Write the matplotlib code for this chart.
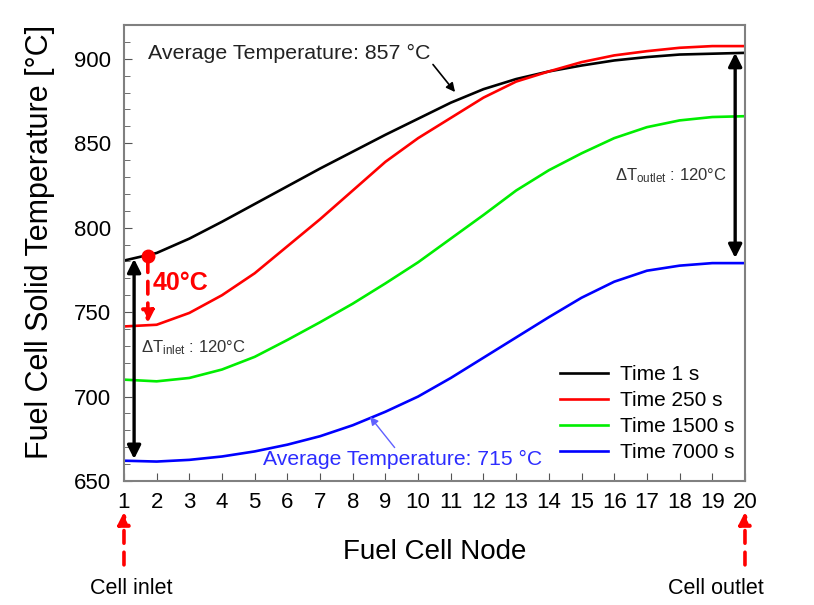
import numpy as np
import matplotlib
matplotlib.use('Agg')
import matplotlib.pyplot as plt
from matplotlib.ticker import MultipleLocator

plt.rcParams['font.family'] = ['Liberation Sans', 'DejaVu Sans']
plt.rcParams['mathtext.fontset'] = 'custom'
plt.rcParams['mathtext.rm'] = 'Liberation Sans'
plt.rcParams['mathtext.it'] = 'Liberation Sans:italic'

# fuel cell node temperatures [°C] at several times
nodes = np.arange(1, 21)
temp_1s = [780.5, 785, 793.5, 803.5, 814, 824.5, 835, 845, 855, 864.5,
           874, 882, 888, 892.5, 896, 899, 901, 902.5, 903, 903.5]
temp_250s = [741.5, 742.5, 749.5, 760, 773, 789, 805, 822, 839, 853,
             865, 877, 886.5, 892.5, 898, 902, 904.5, 906.5, 907.5, 907.5]
temp_1500s = [710, 709, 711, 716, 723.5, 733.5, 744, 755, 767, 779.5,
              793.5, 807.5, 822, 834, 844, 853, 859.5, 863.5, 865.5, 866]
temp_7000s = [662, 661.5, 662.5, 664.5, 667.5, 671.5, 676.5, 683, 691, 700,
              711, 723, 735, 747, 758.5, 768, 774.5, 777.5, 779, 779]
series = [('Time 1 s', temp_1s, 'black'),
          ('Time 250 s', temp_250s, '#ff0000'),
          ('Time 1500 s', temp_1500s, '#00ee00'),
          ('Time 7000 s', temp_7000s, '#0000ff')]

fig = plt.figure(figsize=(8.14, 6.05), dpi=100)
ax = fig.add_axes([0.1523, 0.2050, 0.7629, 0.7537])

for label, temps, col in series:
    ax.plot(nodes, temps, color=col, lw=1.9, label=label)

ax.set_xlim(1, 20)
ax.set_ylim(650, 920)
ax.set_xticks(nodes)
ax.yaxis.set_major_locator(MultipleLocator(50))
ax.yaxis.set_minor_locator(MultipleLocator(10))
ax.tick_params(axis='both', which='both', direction='in', labelsize=16,
               color='#555555', top=False, right=False)
ax.tick_params(axis='y', which='major', length=6, pad=9)
ax.tick_params(axis='y', which='minor', length=4)
ax.tick_params(axis='x', which='major', length=6, pad=8)
for sp in ax.spines.values():
    sp.set_color('#808080')
    sp.set_linewidth(1.5)

ax.set_xlabel('Fuel Cell Node', fontsize=20, labelpad=19)
ax.set_ylabel('Fuel Cell Solid Temperature [°C]', fontsize=22)
ax.yaxis.set_label_coords(-0.111, 0.524)

ax.legend(loc='lower right', bbox_to_anchor=(1.0065, 0.0097), frameon=False,
          fontsize=15, handlelength=2.35, handletextpad=0.55,
          labelspacing=0.33, borderaxespad=0.3)

# average temperature callouts
ax.annotate('Average Temperature: 857 °C', xy=(11.13, 880.3), xytext=(1.73, 903),
            fontsize=15.4, color='#222222', va='center',
            arrowprops=dict(arrowstyle='-|>', color='black', lw=1.2,
                            mutation_scale=13, shrinkA=0, shrinkB=0,
                            relpos=(0.99, 0.3)))
ax.annotate('Average Temperature: 715 °C', xy=(8.53, 688), xytext=(5.25, 662.5),
            fontsize=15.2, color='#2d2dff', va='center',
            arrowprops=dict(arrowstyle='-|>', color='#6060ff', lw=1.0,
                            mutation_scale=12, shrinkA=0, shrinkB=0,
                            relpos=(0.48, 1.0)))

# inlet / outlet spread
ax.annotate('', xy=(1.31, 663), xytext=(1.31, 781.5),
            arrowprops=dict(arrowstyle='<|-|>', color='black', lw=2.4,
                            mutation_scale=20, shrinkA=0, shrinkB=0))
ax.text(1.52, 728.8, r'$\Delta\mathrm{T}_{\mathrm{inlet}}$ : 120°C',
        fontsize=12, color='#333333', va='center')
ax.annotate('', xy=(19.7, 782), xytext=(19.7, 903.5),
            arrowprops=dict(arrowstyle='<|-|>', color='black', lw=2.4,
                            mutation_scale=20, shrinkA=0, shrinkB=0))
ax.text(19.45, 831, r'$\Delta\mathrm{T}_{\mathrm{outlet}}$ : 120°C',
        fontsize=12, color='#333333', va='center', ha='right')

# 40 °C drop at the inlet
ax.plot([1.73], [783.3], 'o', color='#ff0000', ms=9, zorder=5)
ax.annotate('', xy=(1.73, 743.5), xytext=(1.73, 781),
            arrowprops=dict(arrowstyle='-|>', color='#ff0000', lw=2.6,
                            ls=(0, (3.5, 2.5)), mutation_scale=18,
                            shrinkA=0, shrinkB=0))
ax.text(1.89, 767.3, '40°C', fontsize=18, color='#ff0000',
        fontweight='bold', va='center')

# cell inlet / outlet markers under the axis
trans = ax.get_xaxis_transform()
for xn, name in [(1, 'Cell inlet'), (20, 'Cell outlet')]:
    ax.annotate('', xy=(xn, -0.068), xytext=(xn, -0.184), xycoords=trans,
                textcoords=trans, annotation_clip=False,
                arrowprops=dict(arrowstyle='-|>', color='#ff0000', lw=2.6,
                                ls=(0, (3.5, 2.5)), mutation_scale=18,
                                shrinkA=0, shrinkB=0))
ax.text(1.23, -0.235, 'Cell inlet', transform=trans, fontsize=15.5,
        ha='center', va='center')
ax.text(19.1, -0.235, 'Cell outlet', transform=trans, fontsize=15.5,
        ha='center', va='center')

fig.savefig('out.png', dpi=100)
